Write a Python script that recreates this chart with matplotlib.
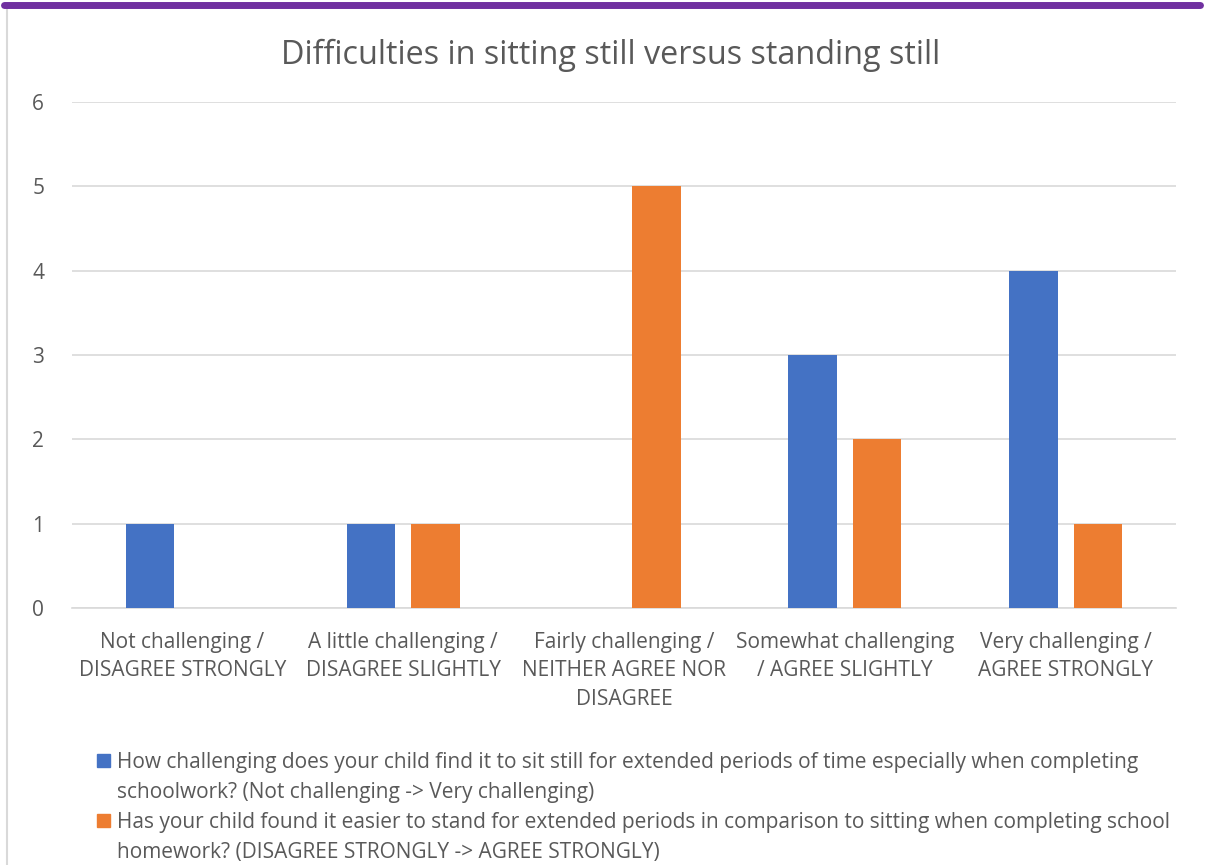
import numpy as np
import matplotlib.pyplot as plt
from matplotlib.patches import Rectangle
from matplotlib.lines import Line2D

plt.rcParams['font.family'] = ['Open Sans', 'DejaVu Sans']

categories = ["Not challenging /\nDISAGREE STRONGLY",
              "A little challenging /\nDISAGREE SLIGHTLY",
              "Fairly challenging /\nNEITHER AGREE NOR\nDISAGREE",
              "Somewhat challenging\n/ AGREE SLIGHTLY",
              "Very challenging /\nAGREE STRONGLY"]
sit_still = [1, 1, 0, 3, 4]
stand = [0, 1, 5, 2, 1]
series_names = ["How challenging does your child find it to sit still for extended periods of time especially when completing\nschoolwork? (Not challenging -> Very challenging)",
                "Has your child found it easier to stand for extended periods in comparison to sitting when completing school\nhomework? (DISAGREE STRONGLY -> AGREE STRONGLY)"]
colors = ["#4472C4", "#ED7D31"]
grey = "#595959"

fig = plt.figure(figsize=(12.06, 8.65), dpi=100)
ax = fig.add_axes([72/1206, 1-608/865, 1104/1206, 506/865])

x = np.arange(len(categories))
w = 0.22
ax.bar(x - 0.146, sit_still, w, color=colors[0], zorder=3)
ax.bar(x + 0.146, stand, w, color=colors[1], zorder=3)

ax.set_xlim(-0.5, 4.5)
ax.set_ylim(0, 6)
ax.set_yticks(range(7))
ax.yaxis.grid(True, color="#D9D9D9", linewidth=1.2)
ax.set_axisbelow(True)
for s in ["top", "right", "left"]:
    ax.spines[s].set_visible(False)
ax.spines["bottom"].set_color("#D9D9D9")
ax.spines["bottom"].set_linewidth(1.2)
ax.set_xticks(x)
ax.set_xticklabels(categories, fontsize=15, color=grey, linespacing=1.48, va="top")
ax.tick_params(axis="x", length=0, pad=17)
ax.tick_params(axis="y", length=0, pad=20, labelsize=15, labelcolor=grey)

fig.text(0.506, 1-55/865, "Difficulties in sitting still versus standing still",
         ha="center", va="center", fontsize=23.3, color=grey)

# legend
for i, name in enumerate(series_names):
    ytop = 754 + 60*i
    fig.patches.append(Rectangle((97/1206, 1-(ytop+13)/865), 13/1206, 13/865,
                                 transform=fig.transFigure, color=colors[i]))
    fig.text(117/1206, 1-(ytop-2)/865, name, ha="left", va="top",
             fontsize=15, color=grey, linespacing=1.57)

# frame
fig.add_artist(Line2D([7/1206, 7/1206], [0, 1-6/865], transform=fig.transFigure,
                      color="#D9D9D9", linewidth=1.5))
fig.add_artist(Line2D([4/1206, 1200/1206], [1-5/865, 1-5/865], transform=fig.transFigure,
                      color="#7030A0", linewidth=5, solid_capstyle="round"))

plt.savefig("out.png", dpi=100)
